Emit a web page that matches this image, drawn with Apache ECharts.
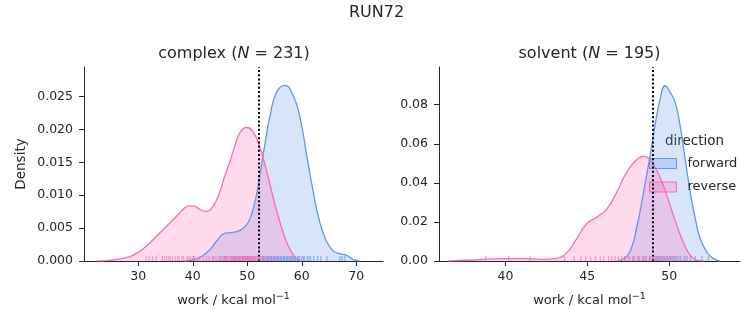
<!DOCTYPE html>
<html>
<head>
<meta charset="utf-8">
<script src="https://cdn.jsdelivr.net/npm/echarts@6/dist/echarts.min.js"></script>
<style>
  html, body { margin: 0; padding: 0; background: #ffffff; }
  #chart { width: 753px; height: 325px; }
</style>
</head>
<body>
<div id="chart"></div>
<script>
// Work distributions (kcal/mol) for RUN72: kernel density estimates [work, density]
// and the individual work values shown as a rug along each x axis.

// complex leg
const complexForwardKde = [
  [38.4, 0], [39.5, 0.0001], [40.8, 0.00035], [42.7, 0.00137], [44.5, 0.00315],
  [45.7, 0.00416], [46.8, 0.0043], [47.6, 0.0044], [48.7, 0.0047], [50.2, 0.0059],
  [51.4, 0.0090], [52.3, 0.0130], [53.2, 0.0176], [54.2, 0.0222], [55.4, 0.0257],
  [56.9, 0.0267], [58.4, 0.0252], [59.7, 0.0217], [60.9, 0.0161], [62.1, 0.0105],
  [63.3, 0.0059], [64.6, 0.0029], [65.8, 0.0015], [67.0, 0.0011], [68.2, 0.00087],
  [69.4, 0.00026], [70.6, 0]
];
const complexReverseKde = [
  [22.5, 0], [24.5, 0.0001], [26.1, 0.00026], [27.8, 0.0005], [29.2, 0.00096],
  [30.8, 0.0018], [32.3, 0.0029], [34.7, 0.0049], [37.2, 0.00695], [38.4, 0.0080],
  [39.3, 0.00837], [40.3, 0.0083], [41.1, 0.00796], [42.0, 0.0076], [42.7, 0.00756],
  [43.4, 0.0080], [44.2, 0.0090], [45.0, 0.0106], [45.7, 0.0125], [46.8, 0.0151],
  [47.6, 0.0172], [48.7, 0.0196], [49.9, 0.0203], [51.1, 0.0196], [52.3, 0.0173],
  [53.6, 0.0135], [54.8, 0.0095], [56.0, 0.0059], [57.2, 0.0029], [58.4, 0.00096],
  [59.4, 0.0001], [60.0, 0]
];
const complexForwardWork = [
  40.2, 43.7, 45.0, 45.8, 46.2, 47.0, 47.5, 47.8, 48.5, 49.3, 50.1, 50.8, 51.4, 51.9,
  52.4, 52.8, 53.0, 53.2, 53.5, 53.7, 53.9, 54.2, 54.4, 54.5, 54.8, 55.0, 55.1, 55.4,
  55.6, 55.7, 56.0, 56.2, 56.3, 56.6, 56.8, 56.9, 57.2, 57.4, 57.5, 57.8, 58.0, 58.1,
  58.4, 58.6, 58.8, 59.2, 59.4, 59.6, 60.0, 60.3, 60.5, 61.0, 61.3, 61.6, 62.2, 62.9,
  63.5, 64.6, 67.0, 67.4, 67.9
];
const complexReverseWork = [
  31.4, 32.0, 32.6, 33.3, 34.4, 34.8, 35.2, 35.6, 35.9, 36.3, 36.8, 37.2, 37.5, 38.0,
  38.3, 39.0, 39.3, 39.6, 40.0, 40.4, 40.9, 41.3, 41.9, 42.5, 43.0, 43.6, 44.1, 44.5,
  44.9, 45.3, 45.6, 45.9, 46.1, 46.3, 46.6, 46.9, 47.2, 47.4, 47.5, 47.7, 48.0, 48.2,
  48.3, 48.5, 48.7, 48.8, 49.0, 49.1, 49.2, 49.4, 49.5, 49.7, 49.8, 49.9, 50.1, 50.2,
  50.4, 50.5, 50.6, 50.8, 50.9, 51.1, 51.3, 51.4, 51.7, 52.0, 52.3, 52.7, 53.1, 53.6,
  54.2, 54.8
];
const complexMarker = 52.15;

// solvent leg
const solventForwardKde = [
  [46.8, 0], [47.2, 0.001], [47.6, 0.0046], [48.0, 0.0165], [48.4, 0.0335],
  [48.8, 0.0522], [49.1, 0.0675], [49.45, 0.0829], [49.75, 0.0897], [50.06, 0.0863],
  [50.37, 0.0812], [50.67, 0.0693], [50.98, 0.0522], [51.29, 0.0352], [51.6, 0.0216],
  [51.9, 0.0114], [52.3, 0.0046], [52.7, 0.0012], [53.1, 0]
];
const solventReverseKde = [
  [36.5, 0], [37.9, 0.0005], [38.75, 0.0010], [40.0, 0.0012], [41.4, 0.0012],
  [42.4, 0.0008], [43.05, 0.0012], [43.7, 0.0039], [44.3, 0.0107], [44.95, 0.019],
  [45.6, 0.0225], [46.2, 0.0267], [46.8, 0.0352], [47.4, 0.0454], [48.0, 0.0517],
  [48.47, 0.0536], [48.8, 0.0522], [49.2, 0.0471], [49.65, 0.0386], [50.06, 0.0284],
  [50.47, 0.0182], [50.9, 0.0088], [51.3, 0.0029], [51.7, 0.0004], [52.1, 0]
];
const solventForwardWork = [
  47.3, 47.8, 48.1, 48.4, 48.6, 48.8, 49.0, 49.1, 49.2, 49.3, 49.4, 49.5, 49.6, 49.7,
  49.8, 49.9, 50.0, 50.1, 50.2, 50.3, 50.4, 50.5, 50.7, 50.9, 51.1, 51.3, 51.6, 52.0, 52.4
];
const solventReverseWork = [
  38.8, 40.2, 41.5, 43.6, 44.2, 44.6, 44.9, 45.2, 45.5, 45.8, 46.0, 46.3, 46.5, 46.7,
  46.9, 47.1, 47.3, 47.5, 47.6, 47.8, 47.9, 48.1, 48.2, 48.4, 48.5, 48.6, 48.8, 48.9,
  49.0, 49.2, 49.3, 49.5, 49.7, 49.9, 50.1, 50.3, 50.6, 51.0
];
const solventMarker = 49.0;

// tick labels
const complexXTicks = [30, 40, 50, 60, 70];
const complexYTicks = [0, 0.005, 0.010, 0.015, 0.020, 0.025];
const solventXTicks = [40, 45, 50];
const solventYTicks = [0, 0.02, 0.04, 0.06, 0.08];

const FONT = 'DejaVu Sans';
const INK = '#262626';
const BLUE = '#6495ED';
const PINK = '#FF69B4';

const chart = echarts.init(document.getElementById('chart'), null, { renderer: 'canvas' });

function kde(name, data, color, idx) {
  return {
    type: 'line', name: name, data: data,
    xAxisIndex: idx, yAxisIndex: idx,
    smooth: 0.5, symbol: 'none', showSymbol: false,
    lineStyle: { color: color, width: 1.3 },
    itemStyle: { color: color },
    areaStyle: { color: color, opacity: 0.25 },
    silent: true, z: 2
  };
}

function rug(name, values, color, idx) {
  return {
    type: 'scatter', name: name,
    data: values.map(function (v) { return [v, 0]; }),
    xAxisIndex: idx, yAxisIndex: idx,
    symbol: 'rect', symbolSize: [1.3, 5], symbolOffset: [0, -2.5],
    itemStyle: { color: color, opacity: 0.6 },
    silent: true, z: 3
  };
}

function marker(value) {
  return {
    silent: true, symbol: 'none', label: { show: false },
    lineStyle: { color: '#000000', type: [2, 2.2], width: 2 },
    emphasis: { disabled: true },
    data: [{ xAxis: value }]
  };
}

function xAxis(idx, min, max, ticks) {
  return {
    type: 'value', gridIndex: idx, min: min, max: max,
    name: '{b|work / kcal mol}{s|\u22121}',
    nameLocation: 'middle', nameGap: 31,
    nameTextStyle: {
      fontFamily: FONT, fontSize: 13, color: INK,
      rich: {
        b: { fontFamily: FONT, fontSize: 13, color: INK },
        s: { fontFamily: FONT, fontSize: 9.5, color: INK, padding: [0, 0, 7, 0] }
      }
    },
    axisLine: { show: true, onZero: false, lineStyle: { color: INK, width: 1 } },
    axisTick: { show: true, length: 5, customValues: ticks, lineStyle: { color: INK, width: 1 } },
    axisLabel: { customValues: ticks, color: INK, fontFamily: FONT, fontSize: 12.5, margin: 9 },
    splitLine: { show: false }
  };
}

function yAxis(idx, max, ticks, digits, withName) {
  return {
    type: 'value', gridIndex: idx, min: 0, max: max,
    name: withName ? 'Density' : '',
    nameLocation: 'middle', nameGap: 56,
    nameTextStyle: { fontFamily: FONT, fontSize: 13.5, color: INK },
    axisLine: { show: true, onZero: false, lineStyle: { color: INK, width: 1 } },
    axisTick: { show: true, length: 5, customValues: ticks, lineStyle: { color: INK, width: 1 } },
    axisLabel: {
      customValues: ticks, color: INK, fontFamily: FONT, fontSize: 12.5, margin: 11,
      formatter: function (v) { return v.toFixed(digits); }
    },
    splitLine: { show: false }
  };
}

const complexRugRev = rug('complex reverse work', complexReverseWork, PINK, 0);
complexRugRev.markLine = marker(complexMarker);
complexRugRev.z = 5;
const solventRugRev = rug('solvent reverse work', solventReverseWork, PINK, 1);
solventRugRev.markLine = marker(solventMarker);
solventRugRev.z = 5;

const option = {
  backgroundColor: '#ffffff',
  animation: false,
  textStyle: { fontFamily: FONT },
  grid: [
    { left: 84, top: 67, width: 299, height: 194 },
    { left: 439, top: 67, width: 301, height: 194 }
  ],
  xAxis: [
    xAxis(0, 20.04, 74.9, complexXTicks),
    xAxis(1, 35.94, 54.33, solventXTicks)
  ],
  yAxis: [
    yAxis(0, 0.0295, complexYTicks, 3, true),
    yAxis(1, 0.0993, solventYTicks, 2, false)
  ],
  legend: {
    left: 649, top: 157, orient: 'vertical',
    itemWidth: 27, itemHeight: 10, itemGap: 10.5, padding: 0,
    icon: 'rect', selectedMode: false,
    textStyle: { fontFamily: FONT, fontSize: 13, color: INK, padding: [0, 0, 0, 6] },
    data: [
      { name: 'forward', itemStyle: { color: 'rgba(100,149,237,0.25)', borderColor: BLUE, borderWidth: 1 } },
      { name: 'reverse', itemStyle: { color: 'rgba(255,105,180,0.25)', borderColor: PINK, borderWidth: 1 } }
    ]
  },
  graphic: [
    {
      type: 'text', x: 376.5, y: 12.5, silent: true,
      style: { text: 'RUN72', fontFamily: FONT, fontSize: 16, fill: INK, align: 'center', verticalAlign: 'middle' }
    },
    {
      type: 'text', x: 234, y: 54, silent: true,
      style: {
        text: '{n|complex (}{i|N}{n| = 231)}', align: 'center', verticalAlign: 'middle',
        rich: {
          n: { fontFamily: FONT, fontSize: 16, fill: INK },
          i: { fontFamily: FONT, fontSize: 16, fontStyle: 'italic', fill: INK }
        }
      }
    },
    {
      type: 'text', x: 589.5, y: 54, silent: true,
      style: {
        text: '{n|solvent (}{i|N}{n| = 195)}', align: 'center', verticalAlign: 'middle',
        rich: {
          n: { fontFamily: FONT, fontSize: 16, fill: INK },
          i: { fontFamily: FONT, fontSize: 16, fontStyle: 'italic', fill: INK }
        }
      }
    },
    {
      type: 'text', x: 694.5, y: 141.5, silent: true,
      style: { text: 'direction', fontFamily: FONT, fontSize: 13.5, fill: INK, align: 'center', verticalAlign: 'middle' }
    }
  ],
  series: [
    kde('forward', complexForwardKde, BLUE, 0),
    kde('reverse', complexReverseKde, PINK, 0),
    rug('complex forward work', complexForwardWork, BLUE, 0),
    complexRugRev,
    kde('forward', solventForwardKde, BLUE, 1),
    kde('reverse', solventReverseKde, PINK, 1),
    rug('solvent forward work', solventForwardWork, BLUE, 1),
    solventRugRev
  ]
};

chart.setOption(option);
</script>
</body>
</html>
